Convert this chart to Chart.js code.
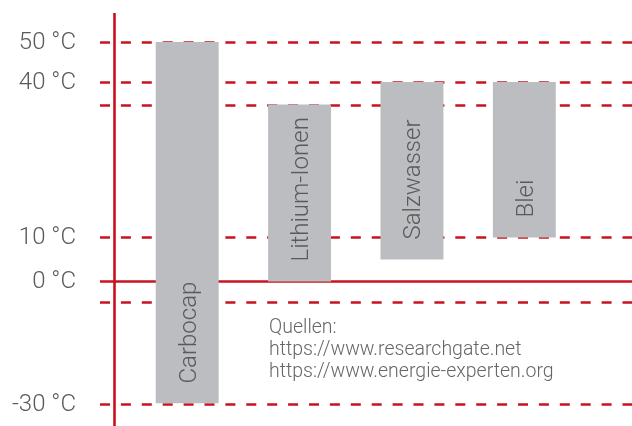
<!DOCTYPE html>
<html>
<head>
<meta charset="utf-8">
<script src="https://cdn.jsdelivr.net/npm/chart.js@4"></script>
<style>
    html, body { margin: 0; padding: 0; background: #fff; }
    #wrap { width: 632px; height: 426px; }
</style>
</head>
<body>
<div id="wrap"><canvas id="tempChart" width="632" height="426"></canvas></div>
<script>
// battery types and their operating temperature range (°C)
const batteries = ['Carbocap', 'Lithium-Ionen', 'Salzwasser', 'Blei'];
const minTemp = [-30, 0, 5, 10];
const maxTemp = [50, 35, 40, 40];

// labelled lines and the extra dashed lines without label
const tickValues = [50, 40, 10, 0, -30];
const extraLines = [35, -5];
const sources = ['Quellen:', 'https://www.researchgate.net', 'https://www.energie-experten.org'];

const red = '#c8131f';
const grey = '#bcbdc0';
const textGrey = '#5a5a5a';
const font = '300 24px Roboto, "DejaVu Sans", sans-serif';

// the original axis is not evenly spaced, so the scale bends at these values
const knotValues = [-30, 0, 10, 35, 40, 50];
const knotDecimals = [0, 0.3375, 0.4592, 0.827, 0.8893, 1];

class WarpScale extends Chart.LinearScale {
    getPixelForValue(value) {
        if (value === null || value === undefined) return NaN;
        let i = 0;
        while (i < knotValues.length - 2 && value > knotValues[i + 1]) i++;
        const t = (value - knotValues[i]) / (knotValues[i + 1] - knotValues[i]);
        const dec = knotDecimals[i] + t * (knotDecimals[i + 1] - knotDecimals[i]);
        return this.getPixelForDecimal(dec);
    }
    getValueForPixel(pixel) {
        const dec = this.getDecimalForPixel(pixel);
        let i = 0;
        while (i < knotDecimals.length - 2 && dec > knotDecimals[i + 1]) i++;
        const t = (dec - knotDecimals[i]) / (knotDecimals[i + 1] - knotDecimals[i]);
        return knotValues[i] + t * (knotValues[i + 1] - knotValues[i]);
    }
}
WarpScale.id = 'warp';
WarpScale.defaults = Chart.LinearScale.defaults;
Chart.register(WarpScale);

const backdrop = {
    id: 'backdrop',
    beforeDatasetsDraw(chart) {
        const ctx = chart.ctx;
        const y = chart.scales.y;
        const right = chart.width;
        ctx.save();
        ctx.strokeStyle = red;
        ctx.lineWidth = 2.6;

        // dashed lines
        ctx.setLineDash([10, 10.9]);
        tickValues.concat(extraLines).forEach(v => {
            if (v === 0) return;
            const py = Math.round(y.getPixelForValue(v)) + 0.5;
            ctx.beginPath();
            ctx.moveTo(100, py);
            ctx.lineTo(right, py);
            ctx.stroke();
        });

        // solid zero line and vertical axis
        ctx.setLineDash([]);
        const zero = y.getPixelForValue(0);
        ctx.beginPath();
        ctx.moveTo(100, zero);
        ctx.lineTo(right, zero);
        ctx.stroke();
        ctx.beginPath();
        ctx.moveTo(114.5, 13);
        ctx.lineTo(114.5, chart.height);
        ctx.stroke();

        // tick labels
        ctx.fillStyle = textGrey;
        ctx.font = font;
        ctx.textAlign = 'right';
        ctx.textBaseline = 'middle';
        tickValues.forEach(v => {
            ctx.fillText(v + ' °C', 76, y.getPixelForValue(v) + 1);
        });

        // sources
        ctx.fillStyle = '#666';
        ctx.font = '300 19.5px Roboto, "DejaVu Sans", sans-serif';
        ctx.textAlign = 'left';
        ctx.textBaseline = 'alphabetic';
        sources.forEach((s, i) => ctx.fillText(s, 269, 333 + i * 22));
        ctx.restore();
    },
    afterDatasetsDraw(chart) {
        // names written upwards inside the bars
        const ctx = chart.ctx;
        const meta = chart.getDatasetMeta(0);
        ctx.save();
        ctx.fillStyle = textGrey;
        ctx.font = font;
        ctx.textAlign = 'left';
        ctx.textBaseline = 'alphabetic';
        meta.data.forEach((bar, i) => {
            const bottom = Math.max(bar.y, bar.base);
            ctx.save();
            ctx.translate(bar.x, bottom - 20);
            ctx.rotate(-Math.PI / 2);
            ctx.fillText(batteries[i], 0, 8.5);
            ctx.restore();
        });
        ctx.restore();
    }
};

const ctx = document.getElementById('tempChart').getContext('2d');
const tempChart = new Chart(ctx, {
    type: 'bar',
    data: {
        labels: batteries,
        datasets: [{
            data: batteries.map((b, i) => [minTemp[i], maxTemp[i]]),
            backgroundColor: grey,
            borderWidth: 0,
            categoryPercentage: 1,
            barPercentage: 0.56
        }]
    },
    options: {
        responsive: false,
        animation: false,
        layout: { padding: { left: 131, right: 51.5, top: 42, bottom: 22.5 } },
        scales: {
            x: { display: false },
            y: { type: 'warp', display: false, min: -30, max: 50 }
        },
        plugins: {
            legend: { display: false },
            tooltip: { enabled: false }
        }
    },
    plugins: [backdrop]
});
</script>
</body>
</html>
